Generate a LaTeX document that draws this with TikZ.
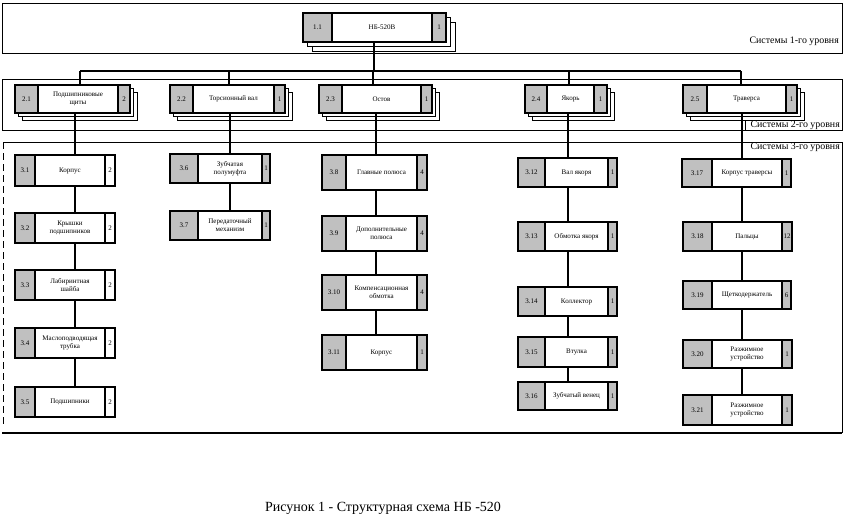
\documentclass[tikz,border=0pt]{standalone}
\usepackage{fontspec}
\setmainfont{Liberation Serif}
\definecolor{cellgr}{RGB}{192,192,192}
\tikzset{
 cellbase/.style={draw, line width=1.5pt, inner sep=0pt, outer sep=0pt, rectangle},
 cellgray/.style={cellbase, fill=cellgr},
 cellwhite/.style={cellbase, fill=white},
 boxframe/.style={draw, line width=1.5pt, inner sep=0pt, outer sep=0pt, rectangle},
 shadowbox/.style={draw, fill=white, line width=0.7pt},
 frameline/.style={line width=0.8pt},
 conn/.style={line width=1.4pt},
 boxtext/.style={font=\fontsize{7}{7.8}\selectfont, align=center, inner sep=0pt},
 numtext/.style={font=\fontsize{7}{7.5}\selectfont, inner sep=0pt},
 lvl/.style={font=\fontsize{9.9}{12}\selectfont, inner sep=1pt},
}
% #1 name, #2 x1, #3 y1, #4 x2, #5 y2, #6 left width, #7 right width, #8 right style
\newcommand\blk[8]{%
  \pgfmathsetmacro\bw{#4-#2}%
  \pgfmathsetmacro\bh{#5-#3}%
  \pgfmathsetmacro\mw{#4-#2-#6-#7}%
  \node[cellgray, minimum width=#6pt, minimum height=\bh pt, anchor=north west] (#1-l) at (#2,#3) {};
  \node[cellwhite, minimum width=\mw pt, minimum height=\bh pt, anchor=north west] (#1-m) at (#1-l.north east) {};
  \node[#8, minimum width=#7pt, minimum height=\bh pt, anchor=north west] (#1-r) at (#1-m.north east) {};
  \node[boxframe, minimum width=\bw pt, minimum height=\bh pt, anchor=north west] (#1) at (#2,#3) {};
}
\newcommand\blkt[4]{%
  \node[numtext] at (#1-l) {#2};
  \node[boxtext] at (#1-m) {#3};
  \node[numtext] at (#1-r) {#4};
}
% #1..#4 box corners, #5 offset step
\newcommand\shd[5]{%
  \draw[shadowbox] (#1+2*#5,#2+2*#5) rectangle (#3+2*#5,#4+2*#5);
  \draw[shadowbox] (#1+#5,#2+#5) rectangle (#3+#5,#4+#5);
}
\begin{document}
\begin{tikzpicture}[x=1pt,y=-1pt]
\useasboundingbox (0,0) rectangle (844,520);
\fill[white] (0,0) rectangle (844,520);
% frames
\draw[frameline] (2,3) rectangle (842,53);
\draw[frameline] (2,79) rectangle (842,130);
\draw[frameline] (3,142) -- (842,142) -- (842,433);
\draw[line width=1.4pt] (2,433) -- (842,433);
\draw[frameline, dash pattern=on 7pt off 4pt] (3,142) -- (3,427);
% level labels
\node[lvl, anchor=east] (lab1) at (840,41) {Системы 1-го уровня};
\node[lvl, anchor=south east] (lab2) at (841,131) {Системы 2-го уровня};
\draw[frameline] (745,130) -- (745,120);
\node[lvl, anchor=north east] (lab3) at (841,142) {Системы 3-го уровня};
\draw[frameline] (742,142) -- (742,156);
% level 1
\shd{303}{13}{446}{42}{4.5}
\blk{n11}{303}{13}{446}{42}{29}{14}{cellgray}
\blkt{n11}{1.1}{НБ-520В}{1}
% level 2
\shd{15}{85}{130}{113}{3.5}
\blk{n21}{15}{85}{130}{113}{23}{12}{cellgray}
\blkt{n21}{2.1}{Подшипниковые\\щиты}{2}
\shd{170}{85}{285}{113}{3.5}
\blk{n22}{170}{85}{285}{113}{23}{11}{cellgray}
\blkt{n22}{2.2}{Торсионный вал}{1}
\shd{319}{85}{432}{113}{3.5}
\blk{n23}{319}{85}{432}{113}{23}{11}{cellgray}
\blkt{n23}{2.3}{Остов}{1}
\shd{525}{85}{607}{113}{3.5}
\blk{n24}{525}{85}{607}{113}{22}{13}{cellgray}
\blkt{n24}{2.4}{Якорь}{1}
\shd{683}{85}{797}{113}{3.5}
\blk{n25}{683}{85}{797}{113}{24}{11}{cellgray}
\blkt{n25}{2.5}{Траверса}{1}
% level 3, column 1
\blk{n31}{15}{155}{115}{186}{20}{10}{cellwhite}
\blkt{n31}{3.1}{Корпус}{2}
\blk{n32}{15}{213}{115}{243}{20}{10}{cellwhite}
\blkt{n32}{3.2}{Крышки\\подшипников}{2}
\blk{n33}{15}{270}{115}{300}{20}{10}{cellwhite}
\blkt{n33}{3.3}{Лабиринтная\\шайба}{2}
\blk{n34}{15}{328}{115}{358}{20}{10}{cellwhite}
\blkt{n34}{3.4}{Маслоподводящая\\трубка}{2}
\blk{n35}{15}{387}{115}{417}{20}{10}{cellwhite}
\blkt{n35}{3.5}{Подшипники}{2}
% column 2
\blk{n36}{170}{154}{270}{183}{28}{8}{cellgray}
\blkt{n36}{3.6}{Зубчатая\\полумуфта}{1}
\blk{n37}{170}{211}{270}{240}{28}{8}{cellgray}
\blkt{n37}{3.7}{Передаточный\\механизм}{1}
% column 3
\blk{n38}{322}{155}{427}{190}{24}{10}{cellgray}
\blkt{n38}{3.8}{Главные полюса}{4}
\blk{n39}{322}{216}{427}{251}{24}{10}{cellgray}
\blkt{n39}{3.9}{Дополнительные\\полюса}{4}
\blk{n310}{322}{275}{427}{310}{24}{10}{cellgray}
\blkt{n310}{3.10}{Компенсационная\\обмотка}{4}
\blk{n311}{322}{335}{427}{370}{24}{10}{cellgray}
\blkt{n311}{3.11}{Корпус}{1}
% column 4
\blk{n312}{518}{158}{617}{187}{27}{9}{cellgray}
\blkt{n312}{3.12}{Вал якоря}{1}
\blk{n313}{518}{222}{617}{251}{27}{9}{cellgray}
\blkt{n313}{3.13}{Обмотка якоря}{1}
\blk{n314}{518}{287}{617}{316}{27}{9}{cellgray}
\blkt{n314}{3.14}{Коллектор}{1}
\blk{n315}{518}{337}{617}{367}{27}{9}{cellgray}
\blkt{n315}{3.15}{Втулка}{1}
\blk{n316}{518}{382}{617}{410}{27}{9}{cellgray}
\blkt{n316}{3.16}{Зубчатый венец}{1}
% column 5
\blk{n317}{682}{159}{791}{187}{30}{9}{cellgray}
\blkt{n317}{3.17}{Корпус траверсы}{1}
\blk{n318}{683}{222}{792}{251}{29}{10}{cellgray}
\blkt{n318}{3.18}{Пальцы}{12}
\blk{n319}{683}{281}{791}{309}{29}{9}{cellgray}
\blkt{n319}{3.19}{Щеткодержатель}{6}
\blk{n320}{683}{340}{792}{368}{29}{10}{cellgray}
\blkt{n320}{3.20}{Разжимное\\устройство}{1}
\blk{n321}{683}{395}{792}{425}{29}{10}{cellgray}
\blkt{n321}{3.21}{Разжимное\\устройство}{1}
% connectors level 1 -> 2
\coordinate (b0) at (374,71);
\coordinate (d1) at (80,71);
\coordinate (d2) at (229,71);
\coordinate (d3) at (373,71);
\coordinate (d4) at (569,71);
\coordinate (d5) at (741,71);
\draw[conn] (n11.south -| b0) -- (b0);
\draw[conn] (d1) -- (d5);
\draw[conn] (d1) -- (d1 |- n21.north);
\draw[conn] (d2) -- (d2 |- n22.north);
\draw[conn] (d3) -- (d3 |- n23.north);
\draw[conn] (d4) -- (d4 |- n24.north);
\draw[conn] (d5) -- (d5 |- n25.north);
% connectors level 2 -> 3
\coordinate (k1) at (75,0);
\coordinate (k2) at (230,0);
\coordinate (k3) at (376,0);
\coordinate (k4) at (568,0);
\coordinate (k5) at (742,0);
\draw[conn] (k1 |- n21.south) -- (k1 |- n31.north);
\draw[conn] (k1 |- n31.south) -- (k1 |- n32.north);
\draw[conn] (k1 |- n32.south) -- (k1 |- n33.north);
\draw[conn] (k1 |- n33.south) -- (k1 |- n34.north);
\draw[conn] (k1 |- n34.south) -- (k1 |- n35.north);
\draw[conn] (k2 |- n22.south) -- (k2 |- n36.north);
\draw[conn] (k2 |- n36.south) -- (k2 |- n37.north);
\draw[conn] (k3 |- n23.south) -- (k3 |- n38.north);
\draw[conn] (k3 |- n38.south) -- (k3 |- n39.north);
\draw[conn] (k3 |- n39.south) -- (k3 |- n310.north);
\draw[conn] (k3 |- n310.south) -- (k3 |- n311.north);
\draw[conn] (k4 |- n24.south) -- (k4 |- n312.north);
\draw[conn] (k4 |- n312.south) -- (k4 |- n313.north);
\draw[conn] (k4 |- n313.south) -- (k4 |- n314.north);
\draw[conn] (k4 |- n314.south) -- (k4 |- n315.north);
\draw[conn] (k4 |- n315.south) -- (k4 |- n316.north);
\draw[conn] (k5 |- n25.south) -- (k5 |- n317.north);
\draw[conn] (k5 |- n317.south) -- (k5 |- n318.north);
\draw[conn] (k5 |- n318.south) -- (k5 |- n319.north);
\draw[conn] (k5 |- n319.south) -- (k5 |- n320.north);
\draw[conn] (k5 |- n320.south) -- (k5 |- n321.north);
% caption
\node[font=\fontsize{14}{16}\selectfont, inner sep=0pt] (cap) at (383,508) {Рисунок 1 - Структурная схема НБ -520};
\end{tikzpicture}
\end{document}
